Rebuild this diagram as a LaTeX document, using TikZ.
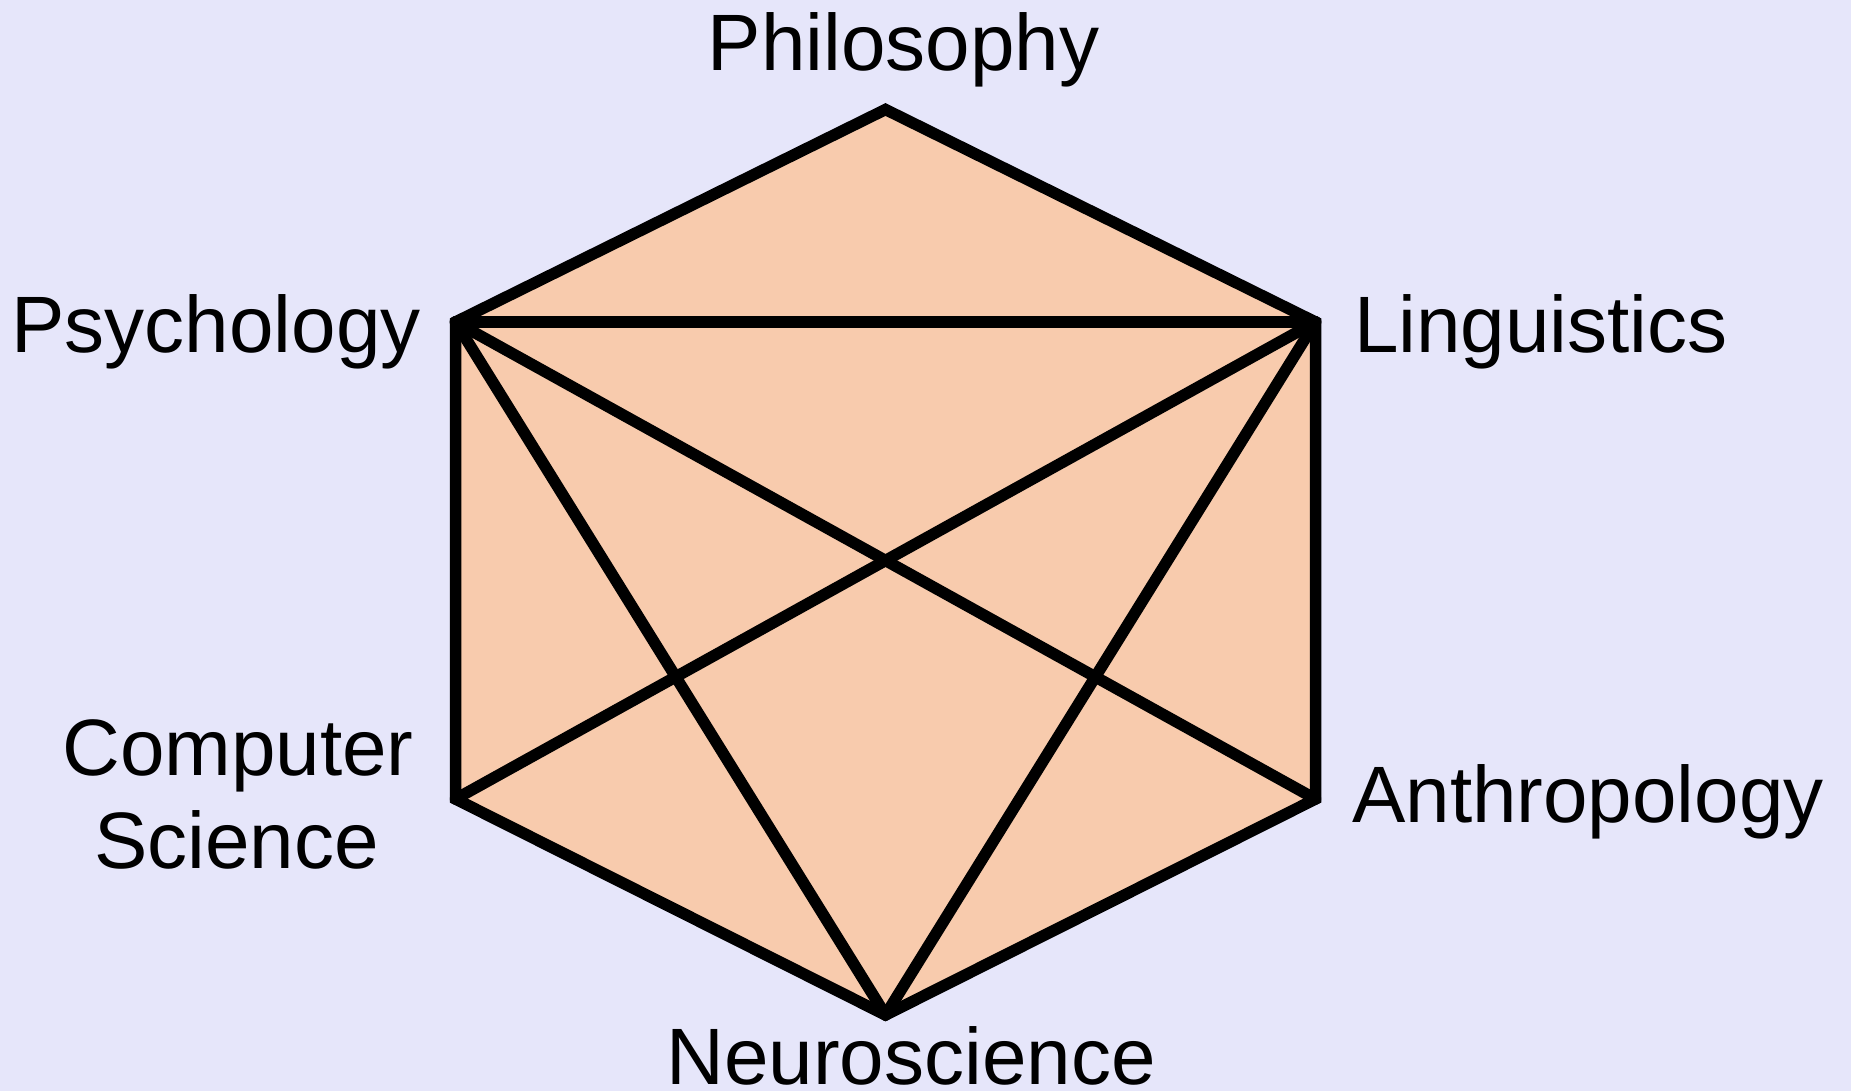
\documentclass[tikz,border=0pt]{standalone}
\usepackage{fontspec}
\setmainfont{Liberation Sans}
\definecolor{bgcol}{RGB}{230,230,250}
\definecolor{fillcol}{RGB}{248,203,173}
\begin{document}
\begin{tikzpicture}[x=1pt,y=-1pt,
  lbl/.style={inner sep=0pt,anchor=base,font=\fontsize{80}{93}\selectfont},
  edge/.style={line width=11.5pt,line cap=round,line join=miter,draw=black}]
\fill[bgcol] (0,0) rectangle (1851,1091);
\useasboundingbox (0,0) rectangle (1851,1091);
\coordinate (P) at (885.5,109.5);
\coordinate (L) at (1315.5,322);
\coordinate (A) at (1315.5,799);
\coordinate (N) at (885.5,1015);
\coordinate (C) at (455.5,799);
\coordinate (S) at (455.5,322);
\filldraw[fill=fillcol,line width=11.5pt,line join=miter] (P) -- (L) -- (A) -- (N) -- (C) -- (S) -- cycle;
\draw[edge] (S) -- (L);
\draw[edge] (S) -- (A);
\draw[edge] (S) -- (N);
\draw[edge] (L) -- (C);
\draw[edge] (L) -- (N);
\node[lbl] (tP) at (903.5,71) {Philosophy};
\node[lbl] (tS) at (216,352) {Psychology};
\node[lbl] (tL) at (1541,352) {Linguistics};
\node[lbl] (tA) at (1588,822) {Anthropology};
\node[lbl] (tC1) at (238,775) {Computer};
\node[lbl] (tC2) at (236.5,868) {Science};
\node[lbl] (tN) at (911,1084) {Neuroscience};
\end{tikzpicture}
\end{document}
